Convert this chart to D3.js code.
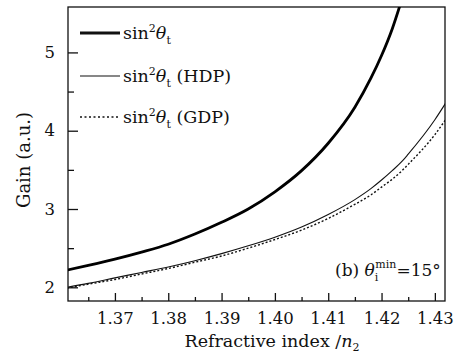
<!DOCTYPE html>
<html>
<head>
<meta charset="utf-8">
<script src="https://cdn.jsdelivr.net/npm/d3@7"></script>
<style>
  body { margin: 0; background: #fff; }
  text { font-family: "DejaVu Serif", serif; fill: #111; }
</style>
</head>
<body>
<div id="chart"></div>
<script>
// data
var nValues   = [1.361, 1.365, 1.370, 1.375, 1.380, 1.385, 1.390, 1.395, 1.400, 1.405, 1.410, 1.415, 1.418, 1.420, 1.422, 1.424, 1.425, 1.430, 1.432];
var gainSin   = [2.22, 2.28, 2.36, 2.45, 2.55, 2.68, 2.83, 3.00, 3.22, 3.49, 3.84, 4.30, 4.67, 4.96, 5.30, 5.72, null, null, null];
var gainHDP   = [2.00, 2.05, 2.12, 2.19, 2.26, 2.34, 2.43, 2.53, 2.64, 2.77, 2.93, 3.12, 3.26, 3.37, 3.49, 3.62, 3.70, 4.14, 4.35];
var gainGDP   = [1.99, 2.04, 2.10, 2.17, 2.24, 2.32, 2.40, 2.50, 2.61, 2.73, 2.88, 3.06, 3.18, 3.28, 3.38, 3.50, 3.57, 3.95, 4.14];
var xTicks = [1.37, 1.38, 1.39, 1.40, 1.41, 1.42, 1.43];
var xMinor = [1.365, 1.375, 1.385, 1.395, 1.405, 1.415, 1.425];
var yTicks = [2, 3, 4, 5];
var yMinor = [2.5, 3.5, 4.5];

var svgWidth = 465, svgHeight = 360;
var plotLeft = 68, plotRight = 445, plotTop = 7, plotBottom = 301;

var svg = d3.select("#chart").append("svg")
    .attr("width", svgWidth)
    .attr("height", svgHeight);

var x = d3.scaleLinear().domain([1.3612, 1.4319]).range([plotLeft, plotRight]);
var y = d3.scaleLinear().domain([1.825, 5.58]).range([plotBottom, plotTop]);

svg.append("clipPath").attr("id", "clip")
  .append("rect")
    .attr("x", plotLeft).attr("y", plotTop)
    .attr("width", plotRight - plotLeft).attr("height", plotBottom - plotTop);

// frame
svg.append("rect")
    .attr("x", plotLeft).attr("y", plotTop)
    .attr("width", plotRight - plotLeft).attr("height", plotBottom - plotTop)
    .attr("fill", "none")
    .attr("stroke", "#111")
    .attr("stroke-width", 1.3);

// axes (ticks pointing inward)
svg.append("g")
    .attr("transform", `translate(0,${plotBottom})`)
    .call(d3.axisBottom(x).tickValues(xTicks).tickFormat(d3.format(".2f"))
      .tickSizeInner(-8).tickSizeOuter(0).tickPadding(11));
svg.append("g")
    .attr("transform", `translate(0,${plotBottom})`)
    .call(d3.axisBottom(x).tickValues(xMinor).tickFormat("")
      .tickSizeInner(-4).tickSizeOuter(0));
svg.append("g")
    .attr("transform", `translate(${plotLeft},0)`)
    .call(d3.axisLeft(y).tickValues(yTicks).tickFormat(d3.format("d"))
      .tickSizeInner(-10).tickSizeOuter(0).tickPadding(13));
svg.append("g")
    .attr("transform", `translate(${plotLeft},0)`)
    .call(d3.axisLeft(y).tickValues(yMinor).tickFormat("")
      .tickSizeInner(-6).tickSizeOuter(0));

svg.selectAll(".domain").remove();
svg.selectAll(".tick line").attr("stroke", "#111").attr("stroke-width", 1.3);
svg.selectAll(".tick text")
    .style("font-family", "DejaVu Serif, serif")
    .style("font-size", "16.5px")
    .attr("fill", "#111");

// curves
var plot = svg.append("g").attr("clip-path", "url(#clip)");

function makeLine(vals) {
  return d3.line()
    .defined((d, i) => vals[i] != null)
    .x((d, i) => x(nValues[i]))
    .y((d, i) => y(vals[i]))
    .curve(d3.curveMonotoneX)(nValues);
}

plot.append("path")
    .attr("d", makeLine(gainGDP))
    .attr("fill", "none")
    .attr("stroke", "#111")
    .attr("stroke-width", 1.4)
    .attr("stroke-dasharray", "2,2");

plot.append("path")
    .attr("d", makeLine(gainHDP))
    .attr("fill", "none")
    .attr("stroke", "#111")
    .attr("stroke-width", 1.1);

plot.append("path")
    .attr("d", makeLine(gainSin))
    .attr("fill", "none")
    .attr("stroke", "#000")
    .attr("stroke-width", 2.8);

// legend
var legend = [
  {y: 33, width: 2.8, dash: null, extra: ""},
  {y: 76, width: 1.1, dash: null, extra: " (HDP)"},
  {y: 117, width: 1.3, dash: "2,2.5", extra: " (GDP)"}
];

legend.forEach(function (d) {
  svg.append("line")
      .attr("x1", 80).attr("x2", 120)
      .attr("y1", d.y).attr("y2", d.y)
      .attr("stroke", "#111")
      .attr("stroke-width", d.width)
      .attr("stroke-dasharray", d.dash);
  var t = svg.append("text")
      .attr("x", 123).attr("y", d.y + 6)
      .style("font-size", "17.5px");
  t.append("tspan").text("sin");
  t.append("tspan").attr("dy", -7).style("font-size", "11px").text("2");
  t.append("tspan").attr("dy", 7).style("font-style", "italic").text("θ");
  t.append("tspan").attr("dy", 5).style("font-size", "11px").text("t");
  t.append("tspan").attr("dy", -5).text(d.extra);
});

// annotation
var ann = svg.append("text")
    .attr("x", 335).attr("y", 276)
    .style("font-size", "17px");
ann.append("tspan").text("(b) ");
ann.append("tspan").style("font-style", "italic").text("θ");
ann.append("tspan").attr("dy", 5).style("font-size", "11px").text("i");
ann.append("tspan").attr("dx", -3).attr("dy", -13).style("font-size", "11px").text("min");
ann.append("tspan").attr("dy", 8).text("=15°");

// axis labels
var xl = svg.append("text")
    .attr("x", 272).attr("y", 347)
    .attr("text-anchor", "middle")
    .style("font-size", "17.5px");
xl.append("tspan").text("Refractive index /");
xl.append("tspan").style("font-style", "italic").text("n");
xl.append("tspan").attr("dy", 4).style("font-size", "11px").text("2");

svg.append("text")
    .attr("transform", "translate(30,160) rotate(-90)")
    .attr("text-anchor", "middle")
    .style("font-size", "18px")
    .text("Gain (a.u.)");
</script>
</body>
</html>
